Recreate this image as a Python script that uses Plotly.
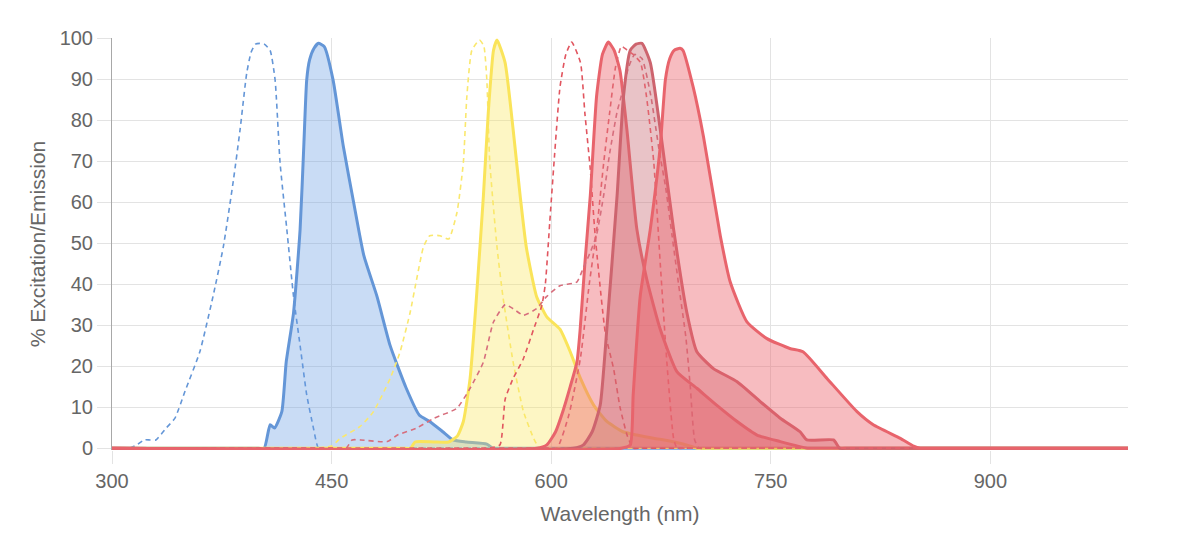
import plotly.graph_objects as go

# ---------------- data (wavelength nm, % intensity) ----------------
blue_ex_x = [300, 305, 312, 317, 322, 326, 330, 337, 343, 350, 360, 369, 376, 383, 387.5, 392, 395, 398, 401, 404, 408, 411.4, 414.8, 419.4, 424, 428.5, 433, 437.6, 441, 446, 994]
blue_ex_y = [0, 0, 0, 0.8, 2, 2, 2, 4.9, 7.3, 14, 23.5, 37, 49, 65.5, 77.7, 91.4, 96.5, 98.5, 98.7, 98.5, 97, 89.8, 69.6, 53.4, 37, 25, 13, 4.9, 0, 0, 0]

blue_em_x = [300, 398, 404, 408, 411, 416, 419, 424, 428.5, 431, 433, 435, 438, 441, 445, 451, 458, 465, 472, 481, 490, 501, 510, 517, 526, 533, 542, 556, 560, 566, 994]
blue_em_y = [0, 0, 0, 5.7, 4.9, 8.9, 21, 33, 53.4, 73.6, 89.8, 94.7, 97.5, 98.7, 97.9, 89.8, 73.6, 60, 47, 37, 25, 14.6, 8, 6.5, 4, 2, 1.5, 1, 0, 0, 0]

yellow_ex_x = [300, 430, 437, 450, 456, 469.5, 478.6, 490, 496.8, 503.6, 508, 512.7, 517, 524, 530, 535.6, 540, 542.4, 545.8, 551, 554, 556, 558, 563, 567, 574, 581, 588, 592, 598, 994]
yellow_ex_y = [0, 0, 0, 0.5, 2.4, 5.3, 8.9, 17, 23.5, 33, 41, 49, 51.8, 51.8, 51, 57.4, 69.6, 85.8, 97, 99.5, 98, 90, 70, 49, 37, 21, 9, 2.4, 0, 0, 0]

yellow_em_x = [300, 498, 504, 507, 520, 530, 536, 540, 544.6, 549, 553.7, 557, 560.6, 563, 568.5, 574, 578.8, 583, 590, 597, 606, 613, 620, 629, 638, 649, 658.5, 670, 680, 690, 700, 706, 994]
yellow_em_y = [0, 0, 0, 1.5, 1.5, 1.5, 3, 6.5, 17, 37, 61.5, 81.7, 97, 99.5, 94, 77.7, 61.5, 49, 37, 32, 29, 23.5, 17, 10.5, 6.5, 4, 3.2, 2.4, 1.8, 1, 0, 0, 0]

red1_ex_x = [300, 558, 565, 568.6, 574, 581, 588, 593.6, 596, 599, 602, 606, 610, 614, 620, 623, 626.7, 630, 637, 642.6, 647, 652, 656, 662, 994]
red1_ex_y = [0, 0, 0.8, 12, 17, 21.8, 29, 34.8, 40, 55, 70, 88, 96, 99, 94, 81.7, 68, 52, 28, 19.4, 10, 3, 0, 0, 0]

red1_em_x = [300, 590, 597, 603, 608, 613, 617.6, 619.8, 623, 626.7, 631, 635, 639, 643, 647, 651.7, 658.5, 665.4, 674.5, 686, 699.5, 713, 727, 740.6, 756.5, 775, 782, 994]
red1_em_y = [0, 0, 0.8, 4, 9, 15, 21, 29, 45, 61.5, 85.8, 96, 99, 97, 92, 77.7, 53.4, 41, 29, 18.6, 14.6, 10.5, 6.5, 3.2, 1.6, 0, 0, 0]

red2_ex_x = [300, 452, 460, 464, 470, 488, 495, 508, 520, 535.5, 544.6, 553.7, 560.5, 568.6, 574, 581, 590, 597, 606, 617.5, 622, 627, 631, 636, 640, 645, 648, 653, 657, 662, 668, 674, 678, 682.5, 687, 692, 695, 698, 701, 707, 994]
red2_ex_y = [0, 0, 0, 2, 2, 1.6, 3.2, 4.9, 7.3, 9.7, 14.6, 21, 30.7, 35, 34, 32.4, 34, 37, 39.6, 40.5, 44, 48, 52, 62, 72, 82, 86, 93, 96, 95, 86, 72, 64, 52, 40, 27, 15, 2, 0, 0, 0]

red2_em_x = [300, 615, 622, 628, 633.5, 638, 645, 649.4, 654, 658, 662, 667.7, 674.5, 683.6, 692.7, 699.5, 710.8, 727, 743, 756.5, 770, 774.7, 792.8, 797, 803, 994]
red2_em_y = [0, 0, 0.8, 4, 10.5, 29, 61.5, 85.8, 97, 98.5, 98.7, 94, 77.7, 53.4, 33, 23.5, 19.4, 16.2, 11.3, 7.3, 4, 2, 2, 0, 0, 0]

red3_ex_x = [300, 598, 604, 612, 620, 626, 631, 636, 640, 644, 648, 652, 656, 661, 665, 670, 674.5, 679, 683.6, 686, 692, 994]
red3_ex_y = [0, 0, 0, 8, 22, 40, 53, 70, 82, 93, 98, 97, 96, 94, 86, 70, 45, 21, 2.4, 0, 0, 0]

red3_em_x = [300, 648, 654, 656, 660.8, 667.7, 674.5, 678, 681, 684, 688, 690, 697, 704, 715.5, 722.3, 733.7, 747.4, 763, 772, 788.4, 808.9, 820, 838.5, 847.6, 852, 858, 994]
red3_em_y = [0, 0, 0.8, 13, 37, 53.4, 73.6, 89.8, 95, 97, 97.5, 97, 88, 76, 51.8, 40.5, 30.8, 26.7, 24.3, 23.5, 17, 8.9, 5.7, 2.4, 0.5, 0, 0, 0]

x_ticks = [300, 450, 600, 750, 900]
y_ticks = [0, 10, 20, 30, 40, 50, 60, 70, 80, 90, 100]

# ---------------- figure ----------------
fig = go.Figure()

def ex(x, y, color):
    fig.add_trace(go.Scatter(x=x, y=y, mode="lines",
                             line=dict(color=color, width=1.6, dash="5px,4px", shape="spline", smoothing=0.5),
                             hoverinfo="skip"))

def em(x, y, color, fill):
    fig.add_trace(go.Scatter(x=x, y=y, mode="lines", fill="tozeroy", fillcolor=fill,
                             line=dict(color=color, width=3, shape="spline", smoothing=0.5),
                             hoverinfo="skip"))

ex(blue_ex_x, blue_ex_y, "rgb(100,150,215)")
em(blue_em_x, blue_em_y, "rgb(100,150,215)", "rgba(100,155,225,0.35)")
ex(yellow_ex_x, yellow_ex_y, "rgb(250,232,110)")
em(yellow_em_x, yellow_em_y, "rgb(250,228,90)", "rgba(250,232,100,0.38)")
ex(red1_ex_x, red1_ex_y, "rgb(225,85,95)")
em(red1_em_x, red1_em_y, "rgb(232,100,108)", "rgba(235,95,105,0.42)")
ex(red2_ex_x, red2_ex_y, "rgb(215,110,125)")
em(red2_em_x, red2_em_y, "rgb(205,100,110)", "rgba(200,105,115,0.40)")
ex(red3_ex_x, red3_ex_y, "rgb(225,100,110)")
em(red3_em_x, red3_em_y, "rgb(232,100,108)", "rgba(235,95,105,0.42)")

font_family = "Liberation Sans, Arial, Helvetica, sans-serif"

fig.update_layout(
    width=1200, height=550,
    margin=dict(l=104, r=80, t=30, b=108),
    paper_bgcolor="white", plot_bgcolor="white",
    showlegend=False,
    font=dict(family=font_family, size=20, color="#666"),
    xaxis=dict(
        range=[300, 994], tickvals=x_ticks, ticktext=[str(v) for v in x_ticks],
        showgrid=True, gridcolor="#e3e3e3", gridwidth=1,
        ticks="outside", ticklen=13, tickcolor="#e3e3e3",
        showline=False, zeroline=False,
        tickfont=dict(size=20, color="#666"),
        title=dict(text="Wavelength (nm)", font=dict(size=21, color="#666"), standoff=15),
        automargin=False,
    ),
    yaxis=dict(
        range=[-0.45, 100], tickvals=y_ticks,
        showgrid=True, gridcolor="#e3e3e3", gridwidth=1,
        ticks="outside", ticklen=14, tickcolor="#e3e3e3",
        showline=True, linecolor="#a8a8a8", linewidth=1,
        zeroline=False,
        tickfont=dict(size=20, color="#666"),
        title=dict(text="% Excitation/Emission", font=dict(size=21, color="#666"), standoff=8),
        automargin=False,
    ),
)

fig.write_html("out.html")
